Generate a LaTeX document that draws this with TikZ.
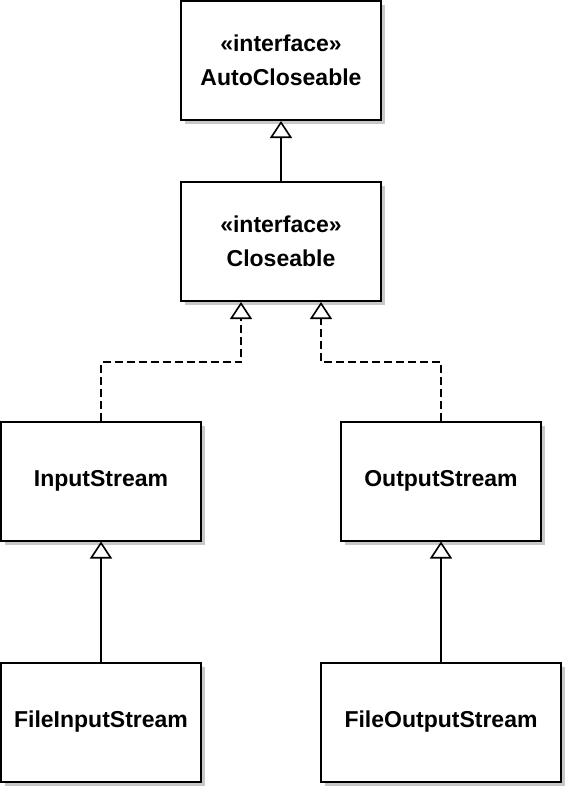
\documentclass[tikz,border=0pt]{standalone}
\usepackage{fontspec}
\setmainfont{Liberation Sans}
\usepackage{xcolor}
\usepackage{tikz}
\usetikzlibrary{positioning,arrows.meta,shadows}
\definecolor{shade}{HTML}{C8C8C8}

\begin{document}
\begin{tikzpicture}[x=1pt,y=-1pt,every node/.style={font=\fontsize{23}{34}\selectfont\bfseries},
    klass/.style={draw,line width=2pt,fill=white,minimum width=200pt,minimum height=119pt,align=center,
      drop shadow={shadow xshift=4pt,shadow yshift=-4pt,fill=shade,opacity=1}},
    extends/.style={line width=1.6pt,-{Triangle[open,length=17pt,width=22pt]}},
    realize/.style={extends,dash pattern=on 8pt off 4pt}]
    \useasboundingbox (0,0) rectangle (570,790);
    \node[klass] (auto) at (281,60.5) {«interface»\\AutoCloseable};
    \node[klass,below=60pt of auto] (close) {«interface»\\Closeable};
    \node[klass] (in) at (101,481) {InputStream};
    \node[klass] (out) at (441,481) {OutputStream};
    \node[klass,below=120pt of in] (fin) {FileInputStream};
    \node[klass,below=120pt of out,minimum width=240pt] (fout) {FileOutputStream};
    \draw[extends] (close.north) -- (auto.south);
    \draw[realize] (in.north) |- ([xshift=-40pt,yshift=-60pt]close.south) -- ([xshift=-40pt]close.south);
    \draw[realize] (out.north) |- ([xshift=40pt,yshift=-60pt]close.south) -- ([xshift=40pt]close.south);
    \draw[extends] (fin.north) -- (in.south);
    \draw[extends] (fout.north) -- (out.south);
  \end{tikzpicture}
\end{document}
